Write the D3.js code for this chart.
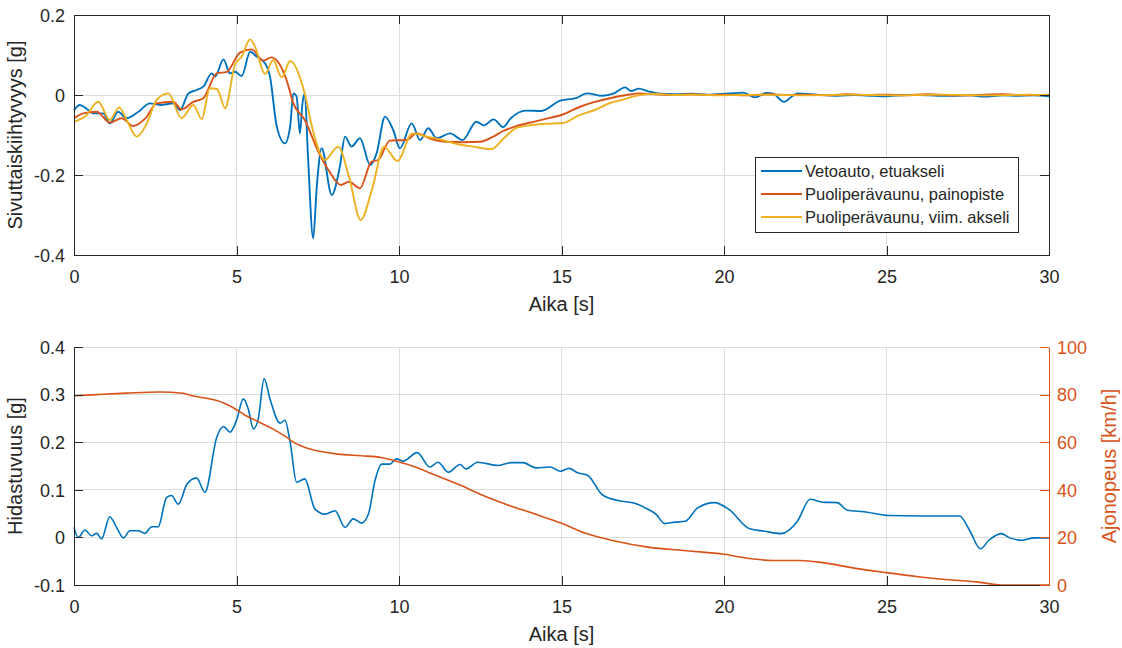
<!DOCTYPE html>
<html>
<head>
<meta charset="utf-8">
<script src="https://cdn.jsdelivr.net/npm/d3@7"></script>
<style>
  html, body { margin: 0; padding: 0; background: #ffffff; }
  svg { display: block; }
  text { font-family: "Liberation Sans", Arial, Helvetica, sans-serif; }
</style>
</head>
<body>
<svg id="chart" width="1122" height="648"></svg>
<script>
// ---- Lateral acceleration (top panel) ----
const tractorT = [0, 0.18, 0.4, 0.6, 0.9, 1.1, 1.36, 1.62, 1.98, 2.34, 2.65, 3.05, 3.26, 3.52, 3.77, 3.98, 4.24, 4.34, 4.6, 4.8, 4.95, 5.16, 5.42, 5.62, 5.88, 6.03, 6.24, 6.49, 6.65, 6.75, 6.85, 6.95, 7.03, 7.1, 7.2, 7.36, 7.47, 7.62, 7.93, 8.18, 8.34, 8.54, 8.8, 9.11, 9.31, 9.57, 9.82, 10.03, 10.39, 10.65, 10.9, 11.16, 11.57, 11.96, 12.38, 12.61, 12.91, 13.2, 13.44, 13.9, 14.38, 14.96, 15.44, 15.79, 16.26, 16.61, 16.96, 17.14, 17.38, 17.67, 17.96, 18.5, 19.0, 19.5, 20.14, 20.6, 20.96, 21.3, 21.49, 21.85, 22.1, 22.26, 22.85, 23.5, 24.0, 24.6, 25.0, 25.6, 26.0, 26.6, 27.0, 27.6, 28.0, 28.6, 29.0, 29.5, 30.0];
const tractorG = [-0.038, -0.025, -0.035, -0.046, -0.046, -0.071, -0.042, -0.058, -0.042, -0.021, -0.025, -0.021, -0.038, 0.004, 0.0125, 0.021, 0.054, 0.046, 0.089, 0.054, 0.058, 0.0475, 0.108, 0.096, 0.079, 0.046, -0.079, -0.121, -0.079, 0.004, -0.004, -0.096, -0.021, 0.004, -0.154, -0.358, -0.229, -0.133, -0.25, -0.179, -0.104, -0.129, -0.108, -0.175, -0.146, -0.054, -0.0875, -0.133, -0.071, -0.1125, -0.083, -0.108, -0.096, -0.1125, -0.067, -0.076, -0.061, -0.08, -0.058, -0.039, -0.04, -0.014, -0.008, 0.004, -0.002, 0.004, 0.019, 0.01, 0.016, 0.009, 0.004, 0.002, 0.003, 0.001, 0.004, 0.006, -0.006, 0.005, 0.004, -0.017, -0.003, 0.004, 0.001, -0.002, 0.0, -0.002, -0.003, 0.0, 0.0, -0.002, -0.002, -0.001, -0.004, -0.001, -0.002, -0.001, -0.003];

const trailerCgT = [0, 0.29, 0.7, 1.1, 1.47, 1.82, 2.2, 2.54, 3.05, 3.31, 3.67, 3.98, 4.39, 4.7, 5.11, 5.47, 5.82, 6.08, 6.3, 6.54, 6.75, 7.1, 7.52, 7.85, 8.21, 8.46, 8.8, 9.15, 9.36, 9.72, 10.23, 10.54, 11.0, 11.46, 12.0, 12.49, 12.9, 13.2, 13.6, 14.14, 14.6, 15.0, 15.55, 16.0, 16.49, 17.0, 17.4, 17.9, 18.5, 19.0, 19.6, 20.0, 20.8, 21.4, 22.0, 22.6, 23.2, 23.8, 24.4, 25.0, 25.6, 26.2, 26.8, 27.4, 28.0, 28.6, 29.2, 30.0];
const trailerCgG = [-0.058, -0.046, -0.042, -0.069, -0.058, -0.0775, -0.058, -0.021, -0.017, -0.036, -0.017, -0.008, 0.054, 0.058, 0.106, 0.114, 0.086, 0.094, 0.08, 0.0375, -0.021, -0.0625, -0.142, -0.19, -0.225, -0.217, -0.233, -0.167, -0.1625, -0.114, -0.1125, -0.096, -0.11, -0.117, -0.118, -0.117, -0.104, -0.09, -0.078, -0.067, -0.058, -0.05, -0.03, -0.018, -0.008, 0.0, 0.004, 0.002, 0.0, 0.002, 0.0, 0.001, -0.001, 0.002, 0.0, 0.001, -0.001, 0.002, 0.0, 0.001, -0.001, 0.002, 0.0, -0.001, 0.001, 0.002, 0.0, 0.001];

const trailerRearT = [0, 0.34, 0.75, 1.1, 1.39, 1.62, 1.93, 2.24, 2.54, 2.9, 3.31, 3.67, 3.93, 4.18, 4.4, 4.65, 4.95, 5.16, 5.42, 5.57, 5.88, 6.13, 6.39, 6.65, 7.1, 7.36, 7.72, 8.13, 8.46, 8.82, 9.18, 9.54, 9.95, 10.41, 10.9, 11.33, 11.78, 12.28, 12.85, 13.2, 13.6, 14.0, 14.5, 15.05, 15.5, 16.02, 16.5, 16.85, 17.2, 17.79, 18.5, 19.2, 19.8, 20.5, 21.2, 21.8, 22.5, 23.2, 23.9, 24.6, 25.3, 26.0, 26.7, 27.4, 28.1, 28.8, 29.4, 30.0];
const trailerRearG = [-0.067, -0.054, -0.017, -0.0625, -0.031, -0.0625, -0.104, -0.071, -0.0125, 0.004, -0.058, -0.025, -0.06, 0.017, 0.015, -0.033, 0.075, 0.096, 0.139, 0.121, 0.0525, 0.0875, 0.044, 0.085, 0.004, -0.092, -0.1625, -0.129, -0.204, -0.3125, -0.233, -0.129, -0.165, -0.096, -0.105, -0.1125, -0.1225, -0.129, -0.135, -0.11, -0.083, -0.076, -0.072, -0.07, -0.052, -0.0375, -0.02, -0.0125, -0.004, 0.003, 0.0, 0.001, -0.001, 0.0, 0.001, 0.0, -0.001, 0.0, 0.001, 0.0, -0.001, 0.0, 0.001, 0.0, -0.001, 0.0, 0.001, 0.0];

const lateralNames = ["Vetoauto, etuakseli", "Puoliperävaunu, painopiste", "Puoliperävaunu, viim. akseli"];

// ---- Deceleration and driving speed (bottom panel) ----
const decelT = [0, 0.13, 0.34, 0.54, 0.7, 0.85, 1.1, 1.31, 1.52, 1.72, 1.98, 2.18, 2.39, 2.59, 2.85, 3.0, 3.21, 3.47, 3.77, 4.03, 4.39, 4.6, 4.8, 5.0, 5.21, 5.36, 5.52, 5.67, 5.85, 6.03, 6.34, 6.49, 6.65, 6.85, 7.1, 7.41, 7.72, 8.03, 8.34, 8.59, 8.85, 9.06, 9.26, 9.47, 9.72, 9.92, 10.13, 10.56, 10.95, 11.2, 11.52, 11.88, 12.06, 12.42, 13.06, 13.44, 13.82, 14.21, 14.65, 14.97, 15.23, 15.49, 15.81, 16.25, 16.7, 17.28, 17.66, 17.92, 18.17, 18.49, 18.81, 19.19, 19.71, 20.15, 20.79, 21.24, 21.75, 22.26, 22.65, 23.03, 23.48, 23.8, 24.31, 25.08, 26.1, 27.25, 27.57, 27.89, 28.15, 28.53, 28.79, 29.17, 29.55, 30.0];
const decelG = [0.021, 0.0, 0.0155, 0.0035, 0.0085, -0.003, 0.0435, 0.021, -0.001, 0.014, 0.014, 0.0085, 0.0225, 0.0225, 0.084, 0.088, 0.07, 0.111, 0.125, 0.095, 0.21, 0.233, 0.221, 0.246, 0.291, 0.27, 0.228, 0.249, 0.333, 0.291, 0.24, 0.246, 0.2, 0.116, 0.123, 0.06, 0.049, 0.056, 0.021, 0.039, 0.03, 0.049, 0.119, 0.154, 0.154, 0.165, 0.16, 0.178, 0.148, 0.158, 0.137, 0.153, 0.144, 0.158, 0.151, 0.157, 0.157, 0.146, 0.148, 0.139, 0.145, 0.136, 0.13, 0.09, 0.078, 0.071, 0.059, 0.048, 0.029, 0.032, 0.034, 0.062, 0.073, 0.059, 0.018, 0.013, 0.008, 0.034, 0.08, 0.074, 0.073, 0.057, 0.054, 0.046, 0.045, 0.045, 0.013, -0.024, -0.006, 0.008, -0.001, -0.006, -0.001, -0.001];

const speedT = [0, 0.57, 1.6, 2.63, 3.35, 3.66, 4.07, 4.59, 4.9, 5.31, 5.72, 6.13, 6.55, 6.76, 7.18, 7.59, 8.11, 8.83, 9.45, 9.87, 10.39, 10.91, 11.42, 11.94, 12.29, 13.31, 14.21, 15.0, 15.74, 16.64, 17.66, 18.94, 20.0, 20.86, 21.5, 22.33, 23.03, 24.05, 24.99, 25.97, 27.0, 27.76, 28.3, 28.5, 30.0];
const speedKmh = [79.5, 79.9, 80.6, 81.1, 80.6, 79.4, 78.5, 76.6, 74.5, 71.0, 68.3, 65.5, 62.0, 59.9, 57.5, 56.1, 55.0, 54.3, 53.6, 52.2, 50.1, 47.3, 44.5, 41.7, 39.4, 33.8, 29.7, 25.9, 21.7, 18.5, 15.9, 14.3, 12.9, 11.0, 10.3, 10.3, 9.4, 7.0, 5.2, 3.5, 2.1, 1.3, 0.3, 0.0, 0.0];

// ---- Tick values and labels ----
const timeTicks = [0, 5, 10, 15, 20, 25, 30];
const lateralTicks = [-0.4, -0.2, 0, 0.2];
const decelTicks = [-0.1, 0, 0.1, 0.2, 0.3, 0.4];
const speedTicks = [0, 20, 40, 60, 80, 100];

const BLUE = "#0072BD", ORANGE = "#D95319", YELLOW = "#EDB120";
const INK = "#262626", GRID = "#dcdcdc";
const TICK_FONT = 18, LABEL_FONT = 20, LEGEND_FONT = 16.5, TICK_LEN = 9;

const svg = d3.select("#chart");
const zip = (ts, vs) => ts.map((t, i) => [t, vs[i]]);
const fmt = d => (d === 0 ? "0" : String(d));

function panel(top, bottom, yDomain, yTicks, opts) {
  const x = d3.scaleLinear().domain([0, 30]).range([74, 1049]);
  const y = d3.scaleLinear().domain(yDomain).range([bottom, top]);
  const g = svg.append("g");

  // grid
  const grid = g.append("g").attr("shape-rendering", "crispEdges");
  grid.selectAll("line.v").data(timeTicks).join("line")
    .attr("x1", d => x(d)).attr("x2", d => x(d)).attr("y1", top).attr("y2", bottom)
    .attr("stroke", GRID).attr("stroke-width", 1);
  grid.selectAll("line.h").data(yTicks).join("line")
    .attr("x1", 74).attr("x2", 1049).attr("y1", d => y(d)).attr("y2", d => y(d))
    .attr("stroke", GRID).attr("stroke-width", 1);

  return { x, y, g };
}

function styleAxis(sel, color) {
  sel.attr("shape-rendering", "crispEdges");
  sel.selectAll("path.domain").attr("stroke", color).attr("stroke-width", 1);
  sel.selectAll(".tick line").attr("stroke", color).attr("stroke-width", 1);
  sel.selectAll(".tick text").attr("fill", color).attr("font-size", TICK_FONT)
    .attr("font-family", '"Liberation Sans", Arial, Helvetica, sans-serif');
}

// ================= Top panel =================
{
  const top = 15, bottom = 255;
  const { x, y, g } = panel(top, bottom, [-0.4, 0.2], lateralTicks);

  const line = d3.line().x(d => x(d[0])).y(d => y(d[1])).curve(d3.curveMonotoneX);
  const series = [
    { data: zip(tractorT, tractorG), color: BLUE },
    { data: zip(trailerCgT, trailerCgG), color: ORANGE },
    { data: zip(trailerRearT, trailerRearG), color: YELLOW }
  ];
  g.append("g").selectAll("path").data(series).join("path")
    .attr("d", d => line(d.data)).attr("fill", "none")
    .attr("stroke", d => d.color).attr("stroke-width", 1.9)
    .attr("stroke-linejoin", "round");

  // axes (ticks pointing inward, mirrored on top and right)
  const ax = g.append("g").attr("transform", `translate(0,${bottom})`)
    .call(d3.axisBottom(x).tickValues(timeTicks).tickFormat(fmt).tickSize(-TICK_LEN).tickSizeOuter(0).tickPadding(0));
  styleAxis(ax, INK);
  ax.selectAll(".tick text").attr("y", 28).attr("dy", 0);

  const axT = g.append("g").attr("transform", `translate(0,${top})`)
    .call(d3.axisTop(x).tickValues(timeTicks).tickFormat("").tickSize(-TICK_LEN).tickSizeOuter(0));
  styleAxis(axT, INK);

  const ay = g.append("g").attr("transform", "translate(74,0)")
    .call(d3.axisLeft(y).tickValues(lateralTicks).tickFormat(fmt).tickSize(-TICK_LEN).tickSizeOuter(0).tickPadding(9));
  styleAxis(ay, INK);
  ay.selectAll(".tick text").attr("dy", "0.35em");

  const ayR = g.append("g").attr("transform", "translate(1049,0)")
    .call(d3.axisRight(y).tickValues(lateralTicks).tickFormat("").tickSize(-TICK_LEN).tickSizeOuter(0));
  styleAxis(ayR, INK);

  g.append("text").attr("x", 561.5).attr("y", 311).attr("text-anchor", "middle")
    .attr("font-size", LABEL_FONT).attr("fill", INK).text("Aika [s]");
  g.append("text").attr("transform", `translate(21.5,${(top + bottom) / 2}) rotate(-90)`)
    .attr("text-anchor", "middle").attr("font-size", LABEL_FONT).attr("fill", INK)
    .text("Sivuttaiskiihtyvyys [g]");

  // legend
  const lg = g.append("g").attr("transform", "translate(755,157)");
  lg.append("rect").attr("x", 0.5).attr("y", 0.5).attr("width", 263).attr("height", 75)
    .attr("fill", "#ffffff").attr("stroke", INK).attr("stroke-width", 1)
    .attr("shape-rendering", "crispEdges");
  const rows = lg.selectAll("g.row").data(series.map((s, i) => ({ name: lateralNames[i], color: s.color })))
    .join("g").attr("transform", (d, i) => `translate(0,${14 + i * 23})`);
  rows.append("line").attr("x1", 6).attr("x2", 47).attr("y1", 0).attr("y2", 0)
    .attr("stroke", d => d.color).attr("stroke-width", 2.2);
  rows.append("text").attr("x", 50).attr("y", 0).attr("dy", "0.35em")
    .attr("font-size", LEGEND_FONT).attr("fill", INK).text(d => d.name);
}

// ================= Bottom panel =================
{
  const top = 347, bottom = 585;
  const { x, y, g } = panel(top, bottom, [-0.1, 0.4], decelTicks);
  const ySpeed = d3.scaleLinear().domain([0, 100]).range([bottom, top]);

  const decelLine = d3.line().x(d => x(d[0])).y(d => y(d[1])).curve(d3.curveMonotoneX);
  const speedLine = d3.line().x(d => x(d[0])).y(d => ySpeed(d[1])).curve(d3.curveMonotoneX);

  g.append("path").attr("d", decelLine(zip(decelT, decelG))).attr("fill", "none")
    .attr("stroke", BLUE).attr("stroke-width", 1.6).attr("stroke-linejoin", "round");
  g.append("path").attr("d", speedLine(zip(speedT, speedKmh))).attr("fill", "none")
    .attr("stroke", ORANGE).attr("stroke-width", 1.6).attr("stroke-linejoin", "round");

  const ax = g.append("g").attr("transform", `translate(0,${bottom})`)
    .call(d3.axisBottom(x).tickValues(timeTicks).tickFormat(fmt).tickSize(-TICK_LEN).tickSizeOuter(0).tickPadding(0));
  styleAxis(ax, INK);
  ax.selectAll(".tick text").attr("y", 28).attr("dy", 0);

  const ay = g.append("g").attr("transform", "translate(74,0)")
    .call(d3.axisLeft(y).tickValues(decelTicks).tickFormat(fmt).tickSize(-TICK_LEN).tickSizeOuter(0).tickPadding(9));
  styleAxis(ay, INK);
  ay.selectAll(".tick text").attr("dy", "0.35em");

  const ayR = g.append("g").attr("transform", "translate(1049,0)")
    .call(d3.axisRight(ySpeed).tickValues(speedTicks).tickFormat(fmt).tickSize(-TICK_LEN).tickSizeOuter(0).tickPadding(8));
  styleAxis(ayR, ORANGE);
  ayR.selectAll(".tick text").attr("dy", "0.35em");

  g.append("text").attr("x", 561.5).attr("y", 641).attr("text-anchor", "middle")
    .attr("font-size", LABEL_FONT).attr("fill", INK).text("Aika [s]");
  g.append("text").attr("transform", `translate(21.5,${(top + bottom) / 2}) rotate(-90)`)
    .attr("text-anchor", "middle").attr("font-size", LABEL_FONT).attr("fill", INK)
    .text("Hidastuvuus [g]");
  g.append("text").attr("transform", `translate(1116,${(top + bottom) / 2}) rotate(-90)`)
    .attr("text-anchor", "middle").attr("font-size", LABEL_FONT).attr("fill", ORANGE)
    .text("Ajonopeus [km/h]");
}
</script>
</body>
</html>
